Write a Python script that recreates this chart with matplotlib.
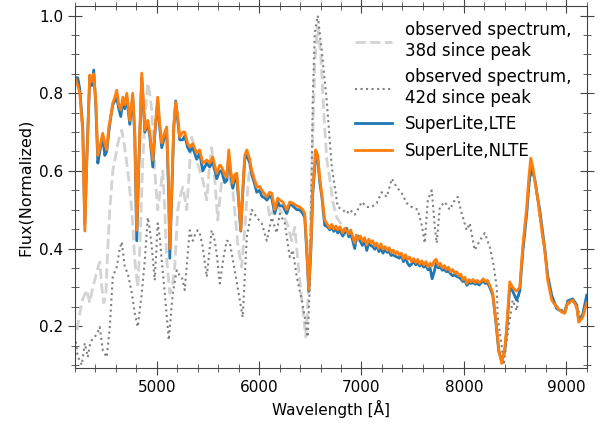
import numpy as np
import matplotlib.pyplot as plt
from matplotlib.ticker import MultipleLocator

# SuperLite model spectra (shared wavelength grid)
wave_model = [4200, 4229, 4249, 4278, 4298, 4317, 4346, 4366, 4385, 4405,
              4425, 4444, 4473, 4493, 4512, 4532, 4552, 4571, 4591, 4610,
              4630, 4649, 4669, 4688, 4708, 4737, 4766, 4786, 4805, 4825,
              4854, 4874, 4884, 4913, 4932, 4962, 4981, 5010, 5030, 5049,
              5079, 5098, 5118, 5128, 5147, 5167, 5186, 5206, 5225, 5254,
              5274, 5303, 5323, 5352, 5391, 5420, 5450, 5489, 5518, 5547,
              5586, 5616, 5635, 5664, 5684, 5704, 5723, 5743, 5762, 5782,
              5801, 5821, 5840, 5860, 5880, 5909, 5929, 5958, 5977, 6007,
              6026, 6056, 6075, 6104, 6124, 6153, 6182, 6202, 6231, 6270,
              6300, 6329, 6368, 6397, 6427, 6446, 6466, 6485, 6505, 6524,
              6553, 6573, 6593, 6612, 6641,
              6671, 6690, 6710, 6730, 6750, 6768, 6790, 6817, 6836, 6856,
              6876, 6895, 6915, 6934, 6950, 6970, 6990, 7010, 7030, 7052,
              7070, 7090, 7110, 7130, 7150, 7170, 7190, 7210, 7230, 7250,
              7270, 7290, 7310, 7330, 7350, 7370, 7390, 7410, 7430, 7450,
              7470, 7490, 7510, 7530, 7550, 7570, 7590, 7610, 7630, 7650,
              7670, 7690, 7710, 7730, 7750, 7770, 7790, 7810, 7830, 7850,
              7870, 7890, 7910, 7930, 7950, 7970, 7990, 8010, 8030, 8050,
              8070, 8090, 8110, 8130, 8150, 8170, 8190, 8210, 8230, 8253,
              8282, 8311, 8341, 8370, 8399,
              8419, 8448, 8477, 8516, 8546, 8575, 8614, 8634, 8653, 8673,
              8692, 8721, 8741, 8770, 8790, 8819, 8858, 8907, 8956, 8985,
              9015, 9063, 9102, 9122, 9161, 9200]

flux_nlte = [0.842, 0.82, 0.80, 0.70, 0.445, 0.62, 0.847, 0.83, 0.85, 0.78,
             0.64, 0.66, 0.697, 0.67, 0.654, 0.713, 0.74, 0.775, 0.79, 0.808,
             0.77, 0.757, 0.79, 0.77, 0.80, 0.73, 0.80, 0.70, 0.447, 0.62,
             0.852, 0.76, 0.705, 0.73, 0.70, 0.628, 0.70, 0.79, 0.72, 0.672,
             0.70, 0.713, 0.55, 0.40, 0.55, 0.72, 0.777, 0.74, 0.687, 0.70,
             0.70, 0.67, 0.662, 0.67, 0.646, 0.654, 0.62, 0.628, 0.62, 0.636,
             0.594, 0.615, 0.61, 0.59, 0.584, 0.654, 0.60, 0.568, 0.59, 0.594,
             0.53, 0.447, 0.55, 0.64, 0.654, 0.63, 0.60, 0.575, 0.558, 0.56,
             0.55, 0.54, 0.533, 0.545, 0.542, 0.50, 0.53, 0.525, 0.52, 0.50,
             0.52, 0.517, 0.51, 0.507, 0.50, 0.49, 0.40, 0.293, 0.40, 0.55,
             0.654, 0.64, 0.58, 0.542, 0.473,
             0.460, 0.452, 0.462, 0.450, 0.458, 0.448, 0.456, 0.440, 0.452, 0.445,
             0.438, 0.448, 0.430, 0.414, 0.435, 0.425, 0.432, 0.418, 0.428, 0.409,
             0.424, 0.415, 0.420, 0.406, 0.414, 0.400, 0.412, 0.398, 0.405, 0.395,
             0.402, 0.390, 0.396, 0.386, 0.392, 0.383, 0.388, 0.374, 0.384, 0.372,
             0.378, 0.366, 0.374, 0.364, 0.372, 0.360, 0.368, 0.358, 0.366, 0.352,
             0.362, 0.355, 0.368, 0.372, 0.356, 0.362, 0.350, 0.356, 0.346, 0.352,
             0.340, 0.346, 0.336, 0.340, 0.330, 0.334, 0.320, 0.326, 0.310, 0.320,
             0.314, 0.320, 0.312, 0.318, 0.312, 0.316, 0.322, 0.314, 0.318, 0.305,
             0.285, 0.22, 0.14, 0.104, 0.14,
             0.198, 0.314, 0.30, 0.29, 0.30, 0.404, 0.507, 0.58, 0.633, 0.61,
             0.577, 0.53, 0.49, 0.43, 0.396, 0.318, 0.267, 0.249, 0.236, 0.233,
             0.26, 0.267, 0.25, 0.21, 0.223, 0.26]

flux_lte = [0.84, 0.84, 0.81, 0.71, 0.46, 0.63, 0.84, 0.82, 0.86, 0.77,
            0.62, 0.65, 0.69, 0.64, 0.65, 0.70, 0.74, 0.77, 0.78, 0.79,
            0.76, 0.74, 0.78, 0.76, 0.79, 0.72, 0.79, 0.69, 0.42, 0.61,
            0.84, 0.75, 0.70, 0.72, 0.69, 0.61, 0.69, 0.78, 0.71, 0.66,
            0.69, 0.70, 0.53, 0.375, 0.54, 0.71, 0.78, 0.73, 0.68, 0.68,
            0.69, 0.66, 0.65, 0.66, 0.63, 0.645, 0.60, 0.62, 0.61, 0.625,
            0.58, 0.60, 0.60, 0.57, 0.575, 0.64, 0.59, 0.555, 0.575, 0.585,
            0.52, 0.445, 0.54, 0.63, 0.64, 0.62, 0.59, 0.565, 0.545, 0.55,
            0.535, 0.53, 0.525, 0.535, 0.53, 0.49, 0.52, 0.51, 0.51, 0.49,
            0.515, 0.51, 0.50, 0.50, 0.49, 0.48, 0.39, 0.29, 0.39, 0.54,
            0.64, 0.63, 0.57, 0.535, 0.46,
            0.455, 0.448, 0.455, 0.444, 0.452, 0.440, 0.446, 0.432, 0.440, 0.452,
            0.430, 0.440, 0.420, 0.400, 0.428, 0.432, 0.418, 0.408, 0.422, 0.395,
            0.415, 0.408, 0.405, 0.398, 0.408, 0.392, 0.400, 0.388, 0.398, 0.390,
            0.392, 0.382, 0.384, 0.380, 0.378, 0.375, 0.382, 0.366, 0.378, 0.362,
            0.355, 0.360, 0.368, 0.358, 0.362, 0.355, 0.360, 0.352, 0.356, 0.345,
            0.350, 0.322, 0.340, 0.362, 0.350, 0.352, 0.344, 0.346, 0.340, 0.342,
            0.335, 0.330, 0.332, 0.328, 0.326, 0.322, 0.315, 0.318, 0.305, 0.312,
            0.310, 0.312, 0.308, 0.310, 0.306, 0.312, 0.316, 0.310, 0.312, 0.300,
            0.28, 0.215, 0.135, 0.11, 0.135,
            0.19, 0.30, 0.29, 0.267, 0.29, 0.39, 0.49, 0.56, 0.607, 0.595,
            0.58, 0.53, 0.50, 0.44, 0.40, 0.33, 0.28, 0.245, 0.238, 0.235,
            0.265, 0.27, 0.255, 0.215, 0.23, 0.28]

# observed spectrum, 38 days after peak
wave_38d = [4220, 4249, 4278, 4317, 4346, 4376, 4395, 4425, 4444, 4464,
            4483, 4503, 4522, 4542, 4571, 4600, 4620, 4640, 4659, 4688,
            4718, 4737, 4757, 4786, 4815, 4835, 4864, 4893, 4913, 4932,
            4952, 4981, 5010, 5040, 5059, 5079, 5098, 5128, 5157, 5176,
            5206, 5235, 5254, 5274, 5294, 5323, 5342, 5371, 5391, 5420,
            5450, 5489, 5518, 5537, 5567, 5596, 5635, 5674, 5713, 5743,
            5772, 5791, 5830, 5860, 5880, 5909, 5948, 5987, 6026, 6075,
            6104, 6143, 6172, 6202, 6231, 6280, 6319, 6348, 6378, 6417,
            6456, 6485, 6515, 6544, 6573, 6603, 6632, 6661, 6690, 6720,
            6759, 6808, 6866, 6934, 6983]
flux_38d = [0.19, 0.233, 0.27, 0.293, 0.26, 0.30, 0.318, 0.35, 0.365, 0.30,
            0.26, 0.28, 0.40, 0.50, 0.60, 0.64, 0.67, 0.69, 0.705, 0.66,
            0.60, 0.55, 0.50, 0.37, 0.30, 0.40, 0.628, 0.76, 0.826, 0.80,
            0.757, 0.60, 0.50, 0.56, 0.60, 0.50, 0.37, 0.285, 0.31, 0.352,
            0.50, 0.54, 0.558, 0.53, 0.50, 0.62, 0.687, 0.66, 0.628, 0.60,
            0.577, 0.525, 0.62, 0.66, 0.58, 0.473, 0.577, 0.60, 0.58, 0.55,
            0.47, 0.414, 0.352, 0.45, 0.525, 0.61, 0.59, 0.56, 0.55, 0.533,
            0.48, 0.50, 0.517, 0.50, 0.49, 0.46, 0.42, 0.455, 0.37, 0.267,
            0.172, 0.30, 0.60, 0.88, 0.97, 0.90, 0.75, 0.63, 0.58, 0.52,
            0.48, 0.46, 0.44, 0.42, 0.42]

# observed spectrum, 42 days after peak
wave_42d = [4210, 4229, 4249, 4268, 4298, 4327, 4346, 4366, 4395, 4425,
            4444, 4473, 4512, 4542, 4571, 4610, 4640, 4659, 4688, 4718,
            4757, 4786, 4815, 4854, 4884, 4913, 4932, 4952, 4981, 5010,
            5030, 5049, 5079, 5118, 5157, 5196, 5225, 5245, 5274, 5303,
            5323, 5352, 5381, 5401, 5420, 5450, 5489, 5518, 5537, 5567,
            5586, 5616, 5655, 5684, 5713, 5762, 5811, 5840, 5880, 5929,
            5977, 6026, 6075, 6124, 6172, 6202, 6251, 6300, 6329, 6368,
            6417, 6456, 6475, 6495, 6515, 6524, 6544, 6573, 6612, 6661,
            6710, 6739, 6768, 6817, 6856, 6886, 6934, 6964, 7003, 7052,
            7100, 7149, 7198, 7247, 7276, 7296, 7345, 7394, 7442, 7491,
            7550, 7589, 7618, 7648, 7687, 7716, 7735, 7765, 7814, 7862,
            7911, 7940, 7979, 8028, 8057, 8106, 8155, 8204, 8253, 8282,
            8302, 8321, 8331, 8370, 8390, 8419, 8448, 8477, 8516, 8546,
            8575, 8614, 8644, 8673, 8702, 8741, 8790, 8829, 8868, 8917,
            8966, 9015, 9063, 9112, 9161, 9200]
flux_42d = [0.16, 0.12, 0.112, 0.10, 0.156, 0.12, 0.15, 0.164, 0.172, 0.185,
            0.198, 0.138, 0.12, 0.198, 0.327, 0.352, 0.40, 0.417, 0.352, 0.336,
            0.285, 0.233, 0.198, 0.285, 0.37, 0.48, 0.45, 0.404, 0.318, 0.465,
            0.43, 0.37, 0.285, 0.164, 0.285, 0.344, 0.33, 0.327, 0.293, 0.387,
            0.447, 0.42, 0.44, 0.447, 0.44, 0.404, 0.327, 0.40, 0.447, 0.42,
            0.387, 0.31, 0.38, 0.42, 0.417, 0.344, 0.267, 0.223, 0.43, 0.50,
            0.48, 0.465, 0.42, 0.48, 0.44, 0.49, 0.465, 0.378, 0.396, 0.327,
            0.267, 0.207, 0.172, 0.30, 0.61, 0.78, 0.955, 1.0, 0.91, 0.78,
            0.61, 0.56, 0.507, 0.50, 0.49, 0.50, 0.487, 0.50, 0.52, 0.507,
            0.507, 0.517, 0.545, 0.533, 0.56, 0.58, 0.558, 0.542, 0.517, 0.507,
            0.50, 0.46, 0.414, 0.525, 0.55, 0.455, 0.414, 0.507, 0.52, 0.50,
            0.525, 0.533, 0.49, 0.447, 0.465, 0.396, 0.42, 0.44, 0.404, 0.37,
            0.336, 0.30, 0.223, 0.147, 0.10, 0.164, 0.216, 0.267, 0.24, 0.30,
            0.387, 0.49, 0.577, 0.60, 0.56, 0.48, 0.39, 0.31, 0.265, 0.25,
            0.24, 0.255, 0.265, 0.24, 0.225, 0.25]

fig, ax = plt.subplots(figsize=(6.08, 4.25), dpi=100)
fig.subplots_adjust(left=0.123, right=0.965, top=0.986, bottom=0.134)

ax.plot(wave_38d, flux_38d, color='lightgrey', ls='--', lw=2,
        label='observed spectrum,\n38d since peak')
ax.plot(wave_42d, flux_42d, color='grey', ls=':', lw=1.5,
        label='observed spectrum,\n42d since peak')
ax.plot(wave_model, flux_lte, color='tab:blue', lw=2, label='SuperLite,LTE')
ax.plot(wave_model, flux_nlte, color='tab:orange', lw=2, label='SuperLite,NLTE')

ax.set_xlim(4200, 9200)
ax.set_ylim(0.092, 1.025)
ax.xaxis.set_major_locator(MultipleLocator(1000))
ax.xaxis.set_minor_locator(MultipleLocator(200))
ax.yaxis.set_major_locator(MultipleLocator(0.2))
ax.yaxis.set_minor_locator(MultipleLocator(0.05))
ax.tick_params(which='both', direction='inout', top=True, right=True,
               labelsize=11, color='#444444')
ax.tick_params(which='major', length=10)
ax.tick_params(which='minor', length=6)
for s in ax.spines.values():
    s.set_color('#444444')

ax.set_xlabel('Wavelength [Å]', fontsize=11)
ax.set_ylabel('Flux(Normalized)', fontsize=11.5)
ax.legend(loc='upper right', frameon=False, fontsize=12, handlelength=2.2)

plt.savefig('out.png', dpi=100)
